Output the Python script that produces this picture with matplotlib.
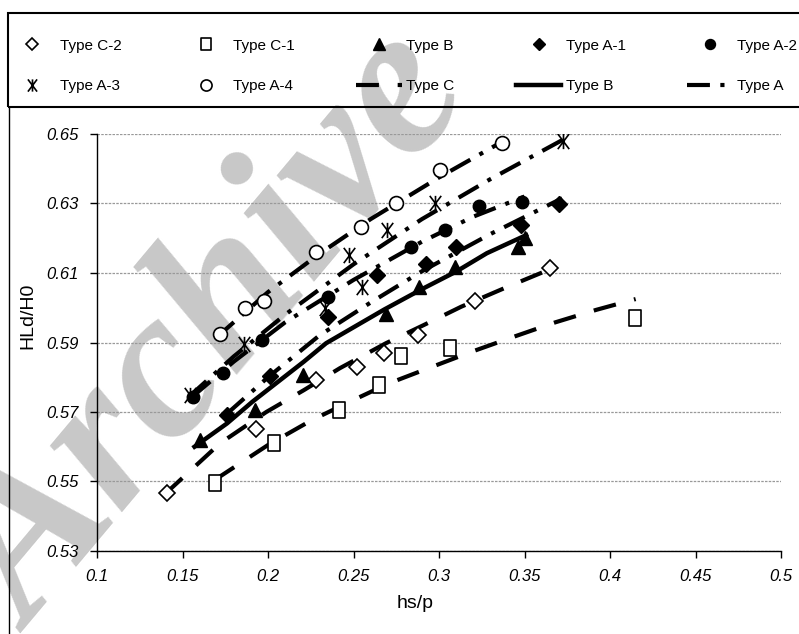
import matplotlib
matplotlib.use('Agg')  # sem display

import matplotlib.pyplot as plt
from matplotlib.path import Path
from matplotlib.lines import Line2D
from matplotlib.patches import Rectangle

plt.rcParams['font.family'] = ['Liberation Sans', 'DejaVu Sans']

# measured points (hs/p, HLd/H0)
c2_x = [0.141, 0.193, 0.228, 0.252, 0.268, 0.288, 0.321, 0.365]
c2_y = [0.5468, 0.5650, 0.5792, 0.5830, 0.5870, 0.5922, 0.6018, 0.6114]

c1_x = [0.169, 0.2035, 0.2413, 0.2650, 0.2775, 0.3064, 0.4146]
c1_y = [0.5497, 0.5610, 0.5706, 0.5778, 0.5861, 0.5883, 0.5970]

b_x = [0.160, 0.1924, 0.2203, 0.2692, 0.2884, 0.3092, 0.3464, 0.3503]
b_y = [0.5620, 0.5706, 0.5806, 0.5982, 0.6061, 0.6116, 0.6176, 0.6200]

a1_x = [0.176, 0.2012, 0.2348, 0.2637, 0.2926, 0.3099, 0.3478, 0.3703]
a1_y = [0.5692, 0.5804, 0.5972, 0.6094, 0.6127, 0.6176, 0.6238, 0.6298]

a2_x = [0.1562, 0.1735, 0.1963, 0.2350, 0.2837, 0.3035, 0.3236, 0.3484]
a2_y = [0.5744, 0.5811, 0.5907, 0.6030, 0.6176, 0.6225, 0.6293, 0.6305]

a3_x = [0.1544, 0.1860, 0.2333, 0.2476, 0.2548, 0.2694, 0.2977, 0.3727]
a3_y = [0.5749, 0.5897, 0.5999, 0.6152, 0.6061, 0.6224, 0.6300, 0.6481]

a4_x = [0.1719, 0.1865, 0.1978, 0.2280, 0.2545, 0.2749, 0.3006, 0.3366]
a4_y = [0.5924, 0.5998, 0.6020, 0.6161, 0.6232, 0.6302, 0.6396, 0.6475]

# fitted curves
fit_c2_x = [0.140, 0.172, 0.199, 0.221, 0.242, 0.269, 0.291, 0.313, 0.339, 0.367]
fit_c2_y = [0.5465, 0.5610, 0.5700, 0.5763, 0.5826, 0.5898, 0.5950, 0.6003, 0.6058, 0.6115]

fit_c1_x = [0.169, 0.200, 0.225, 0.248, 0.271, 0.297, 0.320, 0.344, 0.368, 0.392, 0.415]
fit_c1_y = [0.5505, 0.5605, 0.5675, 0.5730, 0.5783, 0.5832, 0.5875, 0.5917, 0.5958, 0.5994, 0.6025]

fit_b_x = [0.157, 0.176, 0.191, 0.221, 0.234, 0.268, 0.289, 0.310, 0.328, 0.351]
fit_b_y = [0.5600, 0.5667, 0.5730, 0.5845, 0.5898, 0.5995, 0.6051, 0.6104, 0.6157, 0.6209]

fit_a1_x = [0.176, 0.200, 0.230, 0.260, 0.290, 0.330, 0.372]
fit_a1_y = [0.5695, 0.5800, 0.5920, 0.6015, 0.6105, 0.6212, 0.6315]

fit_a2_x = [0.156, 0.180, 0.210, 0.250, 0.290, 0.320, 0.350]
fit_a2_y = [0.5745, 0.5845, 0.5958, 0.6080, 0.6190, 0.6262, 0.6320]

fit_a3_x = [0.154, 0.180, 0.210, 0.250, 0.290, 0.330, 0.373]
fit_a3_y = [0.5745, 0.5860, 0.5980, 0.6125, 0.6255, 0.6370, 0.6485]

fit_a4_x = [0.170, 0.200, 0.230, 0.260, 0.300, 0.337]
fit_a4_y = [0.5915, 0.6045, 0.6155, 0.6255, 0.6375, 0.6478]

x_ticks = [0.1, 0.15, 0.2, 0.25, 0.3, 0.35, 0.4, 0.45, 0.5]
y_ticks = [0.53, 0.55, 0.57, 0.59, 0.61, 0.63, 0.65]

# marcadores especiais
asterisco = Path([(0, -1), (0, 1), (-0.75, -1), (0.75, 1), (-0.75, 1), (0.75, -1)],
                 [Path.MOVETO, Path.LINETO] * 3)
retangulo = Path([(-0.75, -1), (0.75, -1), (0.75, 1), (-0.75, 1), (-0.75, -1)],
                 [Path.MOVETO, Path.LINETO, Path.LINETO, Path.LINETO, Path.CLOSEPOLY])

estilo_c = (0, (5.5, 4.5))
estilo_a = (0, (5.5, 2.5, 1, 2.5))

fig = plt.figure(figsize=(7.99, 6.34), dpi=100)

# marca d'agua
fig.text(0.04, 0.0, 'Archive', fontsize=155, family='Liberation Serif',
         weight='bold', style='italic', color='#c8c8c8', rotation=50,
         rotation_mode='anchor', ha='left', va='baseline', zorder=-5)

ax = fig.add_axes([97 / 799, 1 - 551 / 634, 684 / 799, 417 / 634])
ax.set_facecolor('none')

# curvas ajustadas
ax.plot(fit_c2_x, fit_c2_y, color='black', lw=3, linestyle=estilo_c)
ax.plot(fit_c1_x, fit_c1_y, color='black', lw=3, linestyle=estilo_c)
ax.plot(fit_b_x, fit_b_y, color='black', lw=3.2, linestyle='-')
ax.plot(fit_a1_x, fit_a1_y, color='black', lw=3, linestyle=estilo_a)
ax.plot(fit_a2_x, fit_a2_y, color='black', lw=3, linestyle=estilo_a)
ax.plot(fit_a3_x, fit_a3_y, color='black', lw=3, linestyle=estilo_a)
ax.plot(fit_a4_x, fit_a4_y, color='black', lw=3, linestyle=estilo_a)

# pontos
h_c2, = ax.plot(c2_x, c2_y, 'D', ms=8, mfc='white', mec='black', mew=1.2)
h_c1, = ax.plot(c1_x, c1_y, linestyle='none', marker=retangulo, ms=11, mfc='white', mec='black', mew=1.2)
h_b, = ax.plot(b_x, b_y, '^', ms=10, color='black')
h_a1, = ax.plot(a1_x, a1_y, 'D', ms=8, color='black')
h_a2, = ax.plot(a2_x, a2_y, 'o', ms=9, color='black')
h_a3, = ax.plot(a3_x, a3_y, linestyle='none', marker=asterisco, ms=11, mec='black', mew=1.2)
h_a4, = ax.plot(a4_x, a4_y, 'o', ms=10, mfc='white', mec='black', mew=1.2)

ax.set_xlim(0.1, 0.5)
ax.set_ylim(0.53, 0.65)
ax.set_xticks(x_ticks)
ax.set_yticks(y_ticks)
ax.set_xticklabels([f'{v:g}' for v in x_ticks], fontsize=12, style='italic')
ax.set_yticklabels([f'{v:g}' for v in y_ticks], fontsize=12, style='italic')
ax.tick_params(direction='out', length=5, width=1, color='black', pad=8)
ax.yaxis.grid(True, color='#999999', lw=0.9, linestyle=(0, (2, 1)))
ax.set_axisbelow(True)
for lado in ['top', 'right']:
    ax.spines[lado].set_visible(False)
for lado in ['left', 'bottom']:
    ax.spines[lado].set_linewidth(1)
ax.set_xlabel('hs/p', fontsize=14)
ax.set_ylabel('HLd/H0', fontsize=14)
ax.xaxis.set_label_coords(0.465, -0.105)
ax.yaxis.set_label_coords(-0.088, 0.564)

# legenda (ordem por linhas)
l_c = Line2D([], [], color='black', lw=3, linestyle=estilo_c)
l_b = Line2D([], [], color='black', lw=3.2)
l_a = Line2D([], [], color='black', lw=3, linestyle=estilo_a)
handles = [h_c2, h_a3, h_c1, h_a4, h_b, l_c, h_a1, l_b, h_a2, l_a]
labels = ['Type C-2', 'Type A-3', 'Type C-1', 'Type A-4', 'Type B', 'Type C',
          'Type A-1', 'Type B', 'Type A-2', 'Type A']
leg = fig.legend(handles, labels, ncol=5, loc='center', mode='expand',
                 bbox_to_anchor=(8 / 799, 1 - 113 / 634, 791 / 799, 94 / 634),
                 fontsize=11, frameon=False, borderpad=0.1,
                 handlelength=3.0, handletextpad=0.3, labelspacing=1.75,
                 borderaxespad=0, markerscale=0.8)

# caixa da legenda e borda esquerda
fig.add_artist(Rectangle((8 / 799, 1 - 107 / 634), 1.0, 94 / 634, transform=fig.transFigure,
                         fill=False, edgecolor='black', lw=1.5))
fig.add_artist(Line2D([8.5 / 799, 8.5 / 799], [0, 1 - 107 / 634], color='black', lw=1))

fig.savefig('out.png', dpi=100)
plt.close(fig)
